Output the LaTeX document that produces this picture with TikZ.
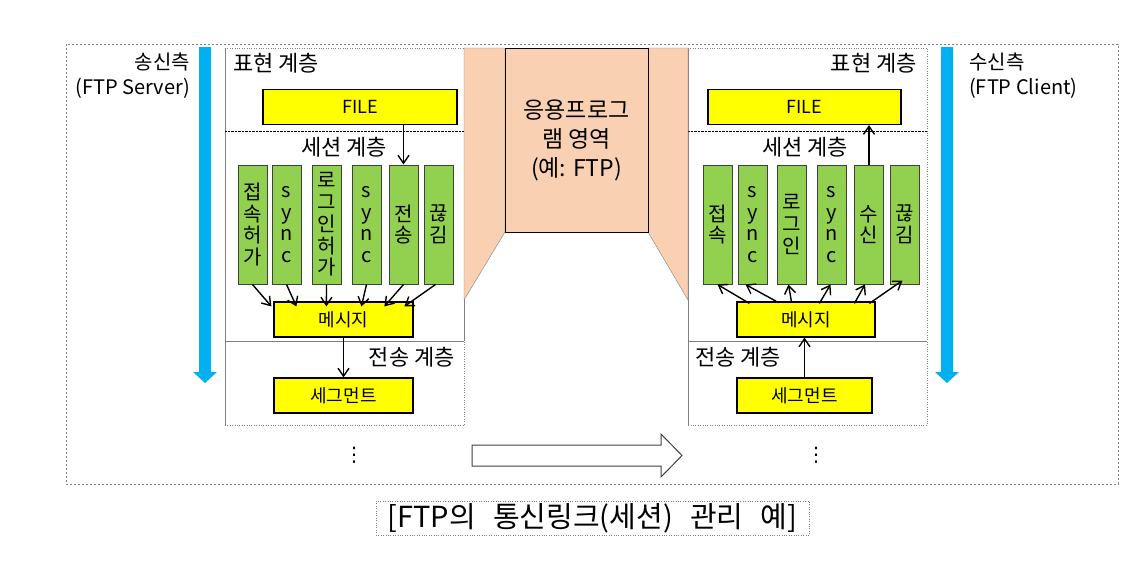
\documentclass[tikz,border=0pt]{standalone}
\usepackage{fontspec}
\setmainfont{Noto Sans CJK KR}
\newfontfamily\symfont{DejaVu Sans}
\usepackage{tikz}
\usetikzlibrary{arrows.meta}

\definecolor{boxyellow}{HTML}{FFFF00}
\definecolor{boxgreen}{HTML}{92D050}
\definecolor{apporange}{HTML}{F9D1B2}
\definecolor{flowblue}{HTML}{00B0F0}

\tikzset{
  yellowbox/.style={draw=black, fill=boxyellow, line width=1.2pt, minimum height=35pt, inner sep=0pt, font=\fontsize{18}{20}\selectfont},
  greenbox/.style={draw=black!75, fill=boxgreen, line width=1pt, minimum width=29pt, minimum height=119pt, inner sep=0pt, align=center, font=\fontsize{20}{21.7}\selectfont},
  layertext/.style={inner sep=0pt, font=\fontsize{22}{24}\selectfont},
  sidetext/.style={inner sep=0pt, font=\fontsize{20}{25}\selectfont},
  flow/.style={-{Straight Barb[length=8pt,width=11pt]}, line width=1.4pt}
}

\begin{document}
\begin{tikzpicture}[x=1pt,y=-1pt]
            \useasboundingbox (0,0) rectangle (1144,587);

            % Outer frame
            \draw[gray, dash pattern=on 2pt off 2pt] (66,44) rectangle (1118,484);

            % Sender and receiver
            \node[sidetext, anchor=north east, align=right] (sender) at (190,53) {송신측\\(FTP Server)};
            \node[sidetext, anchor=north west, align=left] (receiver) at (969,53) {수신측\\(FTP Client)};

            % Blue arrows (direction of flow)
            \fill[flowblue] (199,47) -- (211,47) -- (211,372) -- (217,372) -- (205,383) -- (193,372) -- (199,372) -- cycle;
            \fill[flowblue] (941,47) -- (953,47) -- (953,372) -- (959,372) -- (947,383) -- (935,372) -- (941,372) -- cycle;

            % Left panel (sender layers)
            \draw[gray, dotted] (225,48) -- (464,48);
            \draw[gray] (225,48) -- (225,425);
            \draw[gray, dotted] (225,425) -- (464,425) -- (464,341);
            \draw[gray] (464,341) -- (464,48);
            \draw[densely dotted] (225,131) -- (464,131);
            \draw[gray] (225,341) -- (464,341);

            % Right panel (receiver layers)
            \draw[gray, dotted] (688,48) -- (927,48) -- (927,425) -- (688,425);
            \draw[gray] (688,48) -- (688,425);
            \draw[densely dotted] (688,131) -- (927,131);
            \draw[gray] (688,341) -- (927,341);

            % Application area
            \filldraw[fill=apporange, draw=gray] (464,48) -- (505,48) -- (505,232) -- (464,300) -- cycle;
            \filldraw[fill=apporange, draw=gray] (648,48) -- (688,48) -- (688,300) -- (648,232) -- cycle;
            \node[draw=black, fill=apporange, minimum width=143pt, minimum height=184pt, align=center, font=\fontsize{23}{29}\selectfont] (app) at (576.5,140) {응용프로그\\램 영역\\(예: FTP)};

            % Layer names
            \node[layertext, anchor=west] (presL) at (233,63) {표현 계층};
            \node[layertext, anchor=east] (presR) at (917,63) {표현 계층};
            \node[layertext] (sessL) at (344,147) {세션 계층};
            \node[layertext] (sessR) at (805,147) {세션 계층};
            \node[layertext, anchor=east] (tranL) at (455,357) {전송 계층};
            \node[layertext, anchor=west] (tranR) at (695,357) {전송 계층};

            % Sender boxes
            \node[yellowbox, minimum width=194pt] (fileL) at (360,107) {FILE};
            \node[greenbox] (gL1) at (252.5,224.5) {접\\속\\허\\가};
            \node[greenbox] (gL2) at (286.5,224.5) {s\\y\\n\\c};
            \node[greenbox] (gL3) at (326.5,224.5) {로\\그\\인\\허\\가};
            \node[greenbox] (gL4) at (366.5,224.5) {s\\y\\n\\c};
            \node[greenbox] (gL5) at (403.5,224.5) {전\\송};
            \node[greenbox] (gL6) at (438.5,224.5) {끊\\김};
            \node[yellowbox, minimum width=139pt] (msgL) at (343.5,319.5) {메시지};
            \node[yellowbox, minimum width=139pt] (segL) at (343.5,395.5) {세그먼트};

            % Receiver boxes
            \node[yellowbox, minimum width=193pt] (fileR) at (804.5,107) {FILE};
            \node[greenbox] (gR1) at (717.5,224.5) {접\\속};
            \node[greenbox] (gR2) at (752.5,224.5) {s\\y\\n\\c};
            \node[greenbox] (gR3) at (791.5,224.5) {로\\그\\인};
            \node[greenbox] (gR4) at (831.5,224.5) {s\\y\\n\\c};
            \node[greenbox] (gR5) at (869,224.5) {수\\신};
            \node[greenbox] (gR6) at (904.5,224.5) {끊\\김};
            \node[yellowbox, minimum width=138pt] (msgR) at (806,319.5) {메시지};
            \node[yellowbox, minimum width=135pt] (segR) at (804.5,395.5) {세그먼트};

            % Sender flow: down the layers
            \draw[flow] (fileL.south -| gL5.north) -- (gL5.north);
            \draw[flow] (gL1.south) -- ([xshift=-2pt,yshift=-5pt]msgL.north west);
            \draw[flow] (gL2.south) -- ([xshift=23pt,yshift=-5pt]msgL.north west);
            \draw[flow] (gL3.south) -- ([xshift=53pt,yshift=-5pt]msgL.north west);
            \draw[flow] (gL4.south) -- ([xshift=88pt,yshift=-5pt]msgL.north west);
            \draw[flow] (gL5.south) -- ([xshift=111pt,yshift=-5pt]msgL.north west);
            \draw[flow] ([xshift=-3pt]gL6.south) -- ([xshift=131pt,yshift=-5pt]msgL.north west);
            \draw[flow] (msgL) -- (segL);

            % Receiver flow: up the layers
            \draw[flow] (segR.north) -- (segR.north |- msgR.south);
            \draw[flow] ([xshift=13pt,yshift=-2pt]msgR.north west) -- (gR1.south);
            \draw[flow] ([xshift=40pt]msgR.north west) -- ([xshift=-7pt]gR2.south);
            \draw[flow] ([xshift=55pt]msgR.north west) -- ([xshift=-3pt]gR3.south);
            \draw[flow] ([xshift=83pt,yshift=-2pt]msgR.north west) -- ([xshift=-1pt]gR4.south);
            \draw[flow] ([xshift=118pt,yshift=-2pt]msgR.north west) -- ([xshift=-4pt]gR5.south);
            \draw[flow] ([xshift=133pt,yshift=-2pt]msgR.north west) -- ([xshift=-2pt,yshift=4pt]gR6.south);
            \draw[flow] (gR5.north) -- (gR5.north |- fileR.south);

            % Lower layers and transfer
            \node[font=\symfont\fontsize{20}{22}\selectfont, inner sep=0pt] (moreL) at (354,455) {⋮};
            \node[font=\symfont\fontsize{20}{22}\selectfont, inner sep=0pt] (moreR) at (816,455) {⋮};
            \draw[black!75, fill=white, line width=1pt] (472,445) -- (661,445) -- (661,434) -- (682,455.5) -- (661,477) -- (661,466) -- (472,466) -- cycle;

            % Caption
            \node[draw=gray, dotted, minimum width=433pt, minimum height=34pt, inner sep=0pt, font=\fontsize{29}{31}\selectfont] (caption) at (592.5,518) {[FTP의\hspace{0.6em}통신링크(세션)\hspace{0.6em}관리\hspace{0.6em}예]};
        \end{tikzpicture}
\end{document}
